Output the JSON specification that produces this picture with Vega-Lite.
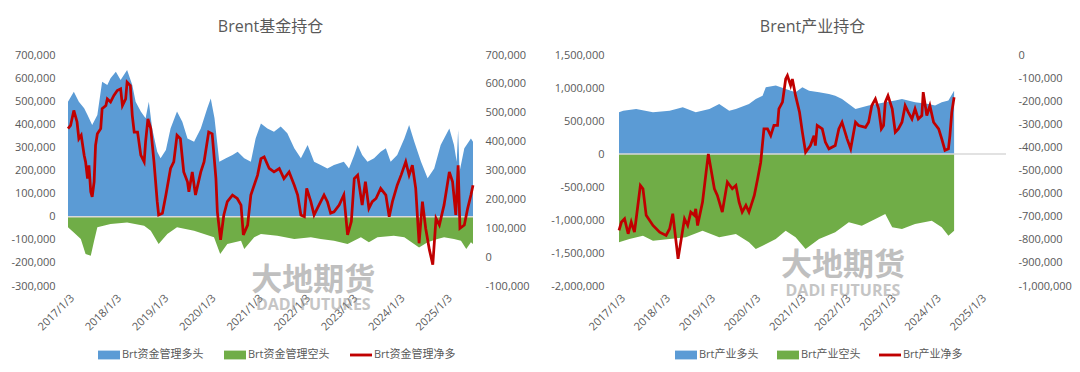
{
  "$schema": "https://vega.github.io/schema/vega-lite/v6.json",
  "background": "white",
  "padding": {"left": 10, "top": 19, "right": 0, "bottom": 0},
  "config": {
    "font": "'Open Sans', 'Noto Sans CJK SC', sans-serif",
    "view": {"stroke": null},
    "axis": {"labelColor": "#595959", "labelFontSize": 11, "grid": false, "domain": false, "ticks": false, "labelFont": "'Open Sans', 'Noto Sans CJK SC', sans-serif"},
    "title": {"fontSize": 16, "fontWeight": "normal", "color": "#595959", "anchor": "middle", "offset": 14, "font": "'Open Sans', 'Noto Sans CJK SC', sans-serif"},
    "legend": {"labelColor": "#595959", "labelFontSize": 11, "labelFont": "'Open Sans', 'Noto Sans CJK SC', sans-serif"}
  },
  "datasets": {
    "fL": [
      {"d":"2017-01-03","v":498000},{"d":"2017-02-17","v":541000},{"d":"2017-03-28","v":498000},{"d":"2017-05-08","v":469000},{"d":"2017-06-03","v":440000},{"d":"2017-07-09","v":397000},{"d":"2017-08-18","v":440000},{"d":"2017-09-24","v":584000},{"d":"2017-11-03","v":570000},{"d":"2017-11-28","v":599000},
      {"d":"2018-01-08","v":628000},{"d":"2018-02-14","v":592000},{"d":"2018-04-05","v":635000},{"d":"2018-05-15","v":570000},{"d":"2018-06-10","v":498000},{"d":"2018-07-20","v":455000},{"d":"2018-08-26","v":426000},{"d":"2018-09-20","v":498000},{"d":"2018-10-16","v":382000},{"d":"2018-11-24","v":281000},{"d":"2018-12-20","v":253000},
      {"d":"2019-01-30","v":289000},{"d":"2019-03-07","v":382000},{"d":"2019-04-26","v":455000},{"d":"2019-06-06","v":411000},{"d":"2019-07-16","v":339000},{"d":"2019-09-05","v":325000},{"d":"2019-10-27","v":382000},{"d":"2019-12-16","v":469000},
      {"d":"2020-01-12","v":512000},{"d":"2020-02-10","v":426000},{"d":"2020-03-18","v":238000},{"d":"2020-05-08","v":253000},{"d":"2020-06-28","v":267000},{"d":"2020-08-07","v":281000},{"d":"2020-09-27","v":253000},{"d":"2020-11-17","v":238000},{"d":"2020-12-24","v":339000},
      {"d":"2021-02-03","v":404000},{"d":"2021-03-25","v":382000},{"d":"2021-05-15","v":368000},{"d":"2021-07-06","v":390000},{"d":"2021-08-26","v":361000},{"d":"2021-10-19","v":296000},{"d":"2021-12-09","v":253000},
      {"d":"2022-01-30","v":310000},{"d":"2022-03-21","v":238000},{"d":"2022-05-11","v":224000},{"d":"2022-07-02","v":209000},{"d":"2022-08-22","v":224000},{"d":"2022-11-06","v":238000},{"d":"2022-12-16","v":209000},
      {"d":"2023-01-26","v":267000},{"d":"2023-02-21","v":310000},{"d":"2023-03-28","v":267000},{"d":"2023-05-08","v":238000},{"d":"2023-06-28","v":253000},{"d":"2023-08-18","v":281000},{"d":"2023-09-27","v":296000},{"d":"2023-11-03","v":238000},{"d":"2023-12-24","v":267000},
      {"d":"2024-02-17","v":339000},{"d":"2024-03-25","v":397000},{"d":"2024-05-04","v":325000},{"d":"2024-06-25","v":238000},{"d":"2024-08-15","v":166000},{"d":"2024-10-05","v":209000},{"d":"2024-11-24","v":310000},
      {"d":"2025-01-30","v":382000},{"d":"2025-03-07","v":310000},{"d":"2025-03-28","v":238000},{"d":"2025-04-08","v":375000},{"d":"2025-04-19","v":195000},{"d":"2025-05-26","v":296000},{"d":"2025-07-16","v":339000},{"d":"2025-08-01","v":325000}
    ],
    "fS": [
      {"d":"2017-01-03","v":-46000},{"d":"2017-02-17","v":-68000},{"d":"2017-04-12","v":-97000},{"d":"2017-05-19","v":-162000},{"d":"2017-06-28","v":-169000},{"d":"2017-07-24","v":-104000},{"d":"2017-08-18","v":-46000},{"d":"2017-11-28","v":-32000},
      {"d":"2018-04-05","v":-25000},{"d":"2018-08-15","v":-39000},{"d":"2018-10-05","v":-61000},{"d":"2018-12-05","v":-118000},
      {"d":"2019-02-10","v":-75000},{"d":"2019-04-26","v":-46000},{"d":"2019-09-05","v":-61000},{"d":"2019-11-21","v":-75000},
      {"d":"2020-02-06","v":-89000},{"d":"2020-03-25","v":-162000},{"d":"2020-05-19","v":-118000},{"d":"2020-09-02","v":-104000},{"d":"2020-09-27","v":-140000},{"d":"2020-12-13","v":-89000},
      {"d":"2021-02-03","v":-75000},{"d":"2021-06-10","v":-82000},{"d":"2021-10-19","v":-97000},
      {"d":"2022-02-24","v":-89000},{"d":"2022-05-11","v":-97000},{"d":"2022-08-22","v":-104000},{"d":"2022-12-05","v":-118000},
      {"d":"2023-03-18","v":-89000},{"d":"2023-05-19","v":-111000},{"d":"2023-07-24","v":-89000},{"d":"2023-11-28","v":-82000},
      {"d":"2024-02-17","v":-89000},{"d":"2024-06-10","v":-133000},{"d":"2024-08-15","v":-111000},{"d":"2024-10-30","v":-97000},{"d":"2024-12-20","v":-89000},
      {"d":"2025-03-07","v":-97000},{"d":"2025-04-30","v":-104000},{"d":"2025-06-10","v":-140000},{"d":"2025-07-16","v":-111000},{"d":"2025-08-01","v":-118000}
    ],
    "fN": [
      {"d":"2017-01-03","v":445000},{"d":"2017-01-23","v":456000},{"d":"2017-02-17","v":508000},{"d":"2017-03-14","v":468000},{"d":"2017-03-28","v":410000},{"d":"2017-04-15","v":422000},{"d":"2017-05-08","v":353000},{"d":"2017-05-19","v":330000},{"d":"2017-06-03","v":272000},{"d":"2017-06-14","v":318000},{"d":"2017-06-28","v":226000},{"d":"2017-07-09","v":209000},{"d":"2017-07-24","v":261000},{"d":"2017-08-04","v":387000},{"d":"2017-08-18","v":427000},{"d":"2017-09-13","v":445000},{"d":"2017-09-24","v":514000},{"d":"2017-10-23","v":525000},{"d":"2017-11-03","v":548000},{"d":"2017-11-28","v":537000},{"d":"2017-12-24","v":560000},
      {"d":"2018-01-19","v":577000},{"d":"2018-02-14","v":583000},{"d":"2018-02-28","v":525000},{"d":"2018-03-25","v":548000},{"d":"2018-04-05","v":606000},{"d":"2018-04-30","v":594000},{"d":"2018-05-15","v":491000},{"d":"2018-05-30","v":433000},{"d":"2018-06-25","v":433000},{"d":"2018-07-20","v":353000},{"d":"2018-08-15","v":330000},{"d":"2018-08-26","v":399000},{"d":"2018-09-13","v":479000},{"d":"2018-10-05","v":445000},{"d":"2018-10-30","v":330000},{"d":"2018-11-24","v":192000},{"d":"2018-12-05","v":146000},
      {"d":"2019-01-03","v":152000},{"d":"2019-01-30","v":215000},{"d":"2019-03-07","v":307000},{"d":"2019-04-01","v":330000},{"d":"2019-04-26","v":422000},{"d":"2019-05-22","v":410000},{"d":"2019-06-17","v":295000},{"d":"2019-07-16","v":261000},{"d":"2019-07-27","v":226000},{"d":"2019-08-22","v":295000},{"d":"2019-09-16","v":215000},{"d":"2019-10-27","v":295000},{"d":"2019-11-21","v":330000},{"d":"2019-12-27","v":433000},
      {"d":"2020-01-23","v":427000},{"d":"2020-02-21","v":272000},{"d":"2020-03-03","v":157000},{"d":"2020-03-28","v":60000},{"d":"2020-04-22","v":146000},{"d":"2020-05-19","v":192000},{"d":"2020-06-28","v":215000},{"d":"2020-08-04","v":203000},{"d":"2020-09-02","v":180000},{"d":"2020-09-20","v":77000},{"d":"2020-10-23","v":111000},{"d":"2020-11-17","v":215000},
      {"d":"2021-01-08","v":284000},{"d":"2021-02-03","v":341000},{"d":"2021-02-28","v":347000},{"d":"2021-04-08","v":307000},{"d":"2021-05-15","v":295000},{"d":"2021-06-25","v":307000},{"d":"2021-07-31","v":272000},{"d":"2021-09-09","v":295000},{"d":"2021-10-19","v":249000},{"d":"2021-11-14","v":215000},{"d":"2021-12-09","v":146000},
      {"d":"2022-01-05","v":140000},{"d":"2022-01-23","v":238000},{"d":"2022-02-24","v":192000},{"d":"2022-03-21","v":146000},{"d":"2022-04-15","v":169000},{"d":"2022-06-06","v":215000},{"d":"2022-07-02","v":192000},{"d":"2022-07-27","v":152000},{"d":"2022-08-22","v":157000},{"d":"2022-10-01","v":180000},{"d":"2022-11-06","v":215000},{"d":"2022-12-05","v":77000},
      {"d":"2023-01-03","v":123000},{"d":"2023-01-26","v":272000},{"d":"2023-02-21","v":284000},{"d":"2023-03-28","v":180000},{"d":"2023-04-22","v":261000},{"d":"2023-05-19","v":169000},{"d":"2023-06-14","v":192000},{"d":"2023-07-13","v":203000},{"d":"2023-08-18","v":238000},{"d":"2023-09-27","v":215000},{"d":"2023-10-23","v":140000},{"d":"2023-11-17","v":192000},{"d":"2023-12-24","v":249000},
      {"d":"2024-01-23","v":284000},{"d":"2024-02-28","v":330000},{"d":"2024-03-25","v":284000},{"d":"2024-04-19","v":318000},{"d":"2024-05-15","v":238000},{"d":"2024-06-10","v":48000},{"d":"2024-07-06","v":192000},{"d":"2024-07-31","v":100000},{"d":"2024-08-29","v":25000},{"d":"2024-09-24","v":-26000},{"d":"2024-10-19","v":134000},{"d":"2024-11-14","v":111000},{"d":"2024-12-20","v":180000},
      {"d":"2025-01-30","v":295000},{"d":"2025-02-24","v":261000},{"d":"2025-03-21","v":146000},{"d":"2025-04-08","v":318000},{"d":"2025-04-22","v":100000},{"d":"2025-05-26","v":111000},{"d":"2025-06-21","v":169000},{"d":"2025-07-16","v":215000},{"d":"2025-08-01","v":249000}
    ],
    "iL": [
      {"d":"2017-01-03","v":632000},{"d":"2017-02-06","v":657000},{"d":"2017-05-22","v":682000},{"d":"2017-10-05","v":632000},{"d":"2018-02-17","v":657000},{"d":"2018-06-03","v":708000},{"d":"2018-09-16","v":632000},{"d":"2019-01-05","v":682000},{"d":"2019-03-25","v":758000},{"d":"2019-06-14","v":657000},{"d":"2019-08-07","v":682000},{"d":"2019-11-21","v":758000},
      {"d":"2020-01-15","v":834000},{"d":"2020-03-10","v":884000},{"d":"2020-04-05","v":1011000},{"d":"2020-06-25","v":1036000},{"d":"2020-09-13","v":985000},{"d":"2020-12-02","v":935000},{"d":"2021-01-26","v":1011000},{"d":"2021-03-21","v":960000},{"d":"2021-06-10","v":935000},{"d":"2021-08-29","v":910000},{"d":"2021-10-19","v":884000},{"d":"2021-12-13","v":834000},
      {"d":"2022-04-01","v":682000},{"d":"2022-07-16","v":733000},{"d":"2022-11-28","v":783000},{"d":"2023-02-17","v":809000},{"d":"2023-04-12","v":834000},{"d":"2023-07-27","v":783000},{"d":"2023-11-14","v":758000},{"d":"2024-01-05","v":733000},{"d":"2024-02-28","v":783000},{"d":"2024-04-22","v":809000},{"d":"2024-06-07","v":960000}
    ],
    "iS": [
      {"d":"2017-01-03","v":-1338000},{"d":"2017-03-28","v":-1288000},{"d":"2017-07-16","v":-1237000},{"d":"2017-10-05","v":-1313000},{"d":"2018-02-17","v":-1288000},{"d":"2018-06-28","v":-1262000},{"d":"2018-11-10","v":-1161000},{"d":"2019-03-25","v":-1262000},{"d":"2019-08-07","v":-1212000},{"d":"2019-11-21","v":-1338000},
      {"d":"2020-01-15","v":-1439000},{"d":"2020-03-10","v":-1389000},{"d":"2020-06-25","v":-1288000},{"d":"2020-09-13","v":-1161000},{"d":"2020-12-02","v":-1262000},{"d":"2021-02-21","v":-1439000},{"d":"2021-06-10","v":-1288000},{"d":"2021-10-19","v":-1187000},
      {"d":"2022-02-06","v":-1035000},{"d":"2022-05-22","v":-1086000},{"d":"2022-09-09","v":-985000},{"d":"2022-11-28","v":-909000},{"d":"2023-01-23","v":-1111000},{"d":"2023-04-12","v":-1136000},{"d":"2023-07-27","v":-1060000},{"d":"2023-12-09","v":-1010000},{"d":"2024-02-28","v":-1111000},{"d":"2024-04-22","v":-1237000},{"d":"2024-06-07","v":-1161000}
    ],
    "iN": [
      {"d":"2017-01-03","v":-759000},{"d":"2017-01-23","v":-723000},{"d":"2017-02-17","v":-709000},{"d":"2017-03-18","v":-774000},{"d":"2017-04-12","v":-723000},{"d":"2017-05-08","v":-767000},{"d":"2017-05-22","v":-709000},{"d":"2017-06-25","v":-565000},{"d":"2017-07-16","v":-579000},{"d":"2017-08-11","v":-694000},{"d":"2017-10-05","v":-738000},{"d":"2017-11-28","v":-767000},
      {"d":"2018-01-19","v":-781000},{"d":"2018-02-17","v":-752000},{"d":"2018-03-14","v":-687000},{"d":"2018-04-26","v":-882000},{"d":"2018-06-17","v":-709000},{"d":"2018-07-13","v":-738000},{"d":"2018-08-07","v":-680000},{"d":"2018-09-05","v":-694000},{"d":"2018-09-16","v":-666000},{"d":"2018-10-01","v":-738000},{"d":"2018-11-10","v":-637000},{"d":"2018-12-09","v":-507000},{"d":"2018-12-27","v":-428000},
      {"d":"2019-02-14","v":-579000},{"d":"2019-03-10","v":-608000},{"d":"2019-04-19","v":-680000},{"d":"2019-05-30","v":-550000},{"d":"2019-07-09","v":-579000},{"d":"2019-08-07","v":-565000},{"d":"2019-09-02","v":-637000},{"d":"2019-09-27","v":-680000},{"d":"2019-10-27","v":-651000},{"d":"2019-11-21","v":-680000},
      {"d":"2020-01-03","v":-608000},{"d":"2020-01-30","v":-536000},{"d":"2020-02-24","v":-464000},{"d":"2020-03-21","v":-320000},{"d":"2020-04-19","v":-320000},{"d":"2020-05-15","v":-349000},{"d":"2020-06-10","v":-305000},{"d":"2020-07-09","v":-305000},{"d":"2020-07-20","v":-233000},{"d":"2020-08-18","v":-204000},{"d":"2020-09-13","v":-104000},{"d":"2020-09-27","v":-89000},{"d":"2020-10-23","v":-132000},{"d":"2020-11-06","v":-104000},{"d":"2020-12-02","v":-176000},
      {"d":"2021-01-03","v":-248000},{"d":"2021-01-26","v":-334000},{"d":"2021-02-21","v":-421000},{"d":"2021-04-01","v":-392000},{"d":"2021-04-30","v":-349000},{"d":"2021-05-11","v":-392000},{"d":"2021-05-26","v":-305000},{"d":"2021-07-06","v":-320000},{"d":"2021-07-31","v":-377000},{"d":"2021-08-29","v":-406000},{"d":"2021-10-19","v":-392000},{"d":"2021-11-17","v":-320000},{"d":"2021-12-13","v":-291000},
      {"d":"2022-01-23","v":-363000},{"d":"2022-02-21","v":-406000},{"d":"2022-03-03","v":-377000},{"d":"2022-04-01","v":-291000},{"d":"2022-04-26","v":-305000},{"d":"2022-06-21","v":-313000},{"d":"2022-07-16","v":-291000},{"d":"2022-08-11","v":-219000},{"d":"2022-09-09","v":-190000},{"d":"2022-10-05","v":-233000},{"d":"2022-10-27","v":-320000},{"d":"2022-11-14","v":-305000},{"d":"2022-11-28","v":-204000},{"d":"2022-12-20","v":-176000},
      {"d":"2023-01-23","v":-233000},{"d":"2023-02-17","v":-334000},{"d":"2023-03-14","v":-320000},{"d":"2023-04-12","v":-291000},{"d":"2023-05-08","v":-219000},{"d":"2023-06-03","v":-248000},{"d":"2023-07-02","v":-277000},{"d":"2023-07-27","v":-233000},{"d":"2023-08-22","v":-277000},{"d":"2023-09-20","v":-262000},{"d":"2023-10-01","v":-161000},{"d":"2023-10-30","v":-262000},{"d":"2023-11-24","v":-219000},{"d":"2023-12-24","v":-291000},
      {"d":"2024-02-03","v":-320000},{"d":"2024-02-28","v":-363000},{"d":"2024-03-25","v":-413000},{"d":"2024-04-22","v":-406000},{"d":"2024-05-04","v":-349000},{"d":"2024-05-19","v":-248000},{"d":"2024-06-07","v":-183000}
    ]
  },
  "spacing": 20,
  "resolve": {"scale": {"color": "independent", "y": "independent"}, "legend": {"color": "independent"}},
  "hconcat": [
    {
      "title": {"text": "Brent基金持仓"},
      "width": 405,
      "height": 231,
      "resolve": {"scale": {"y": "independent"}},
      "layer": [
        {
          "data": {"name": "fL"},
          "mark": {"type": "area", "interpolate": "linear"},
          "encoding": {
            "x": {"field": "d", "type": "temporal", "scale": {"type": "utc", "nice": false, "domain": [{"year": 2017, "month": 1, "date": 3, "utc": true}, {"year": 2025, "month": 8, "date": 1, "utc": true}]},
              "axis": {"title": null, "values": [{"year": 2017, "month": 1, "date": 3, "utc": true}, {"year": 2018, "month": 1, "date": 3, "utc": true}, {"year": 2019, "month": 1, "date": 3, "utc": true}, {"year": 2020, "month": 1, "date": 3, "utc": true}, {"year": 2021, "month": 1, "date": 3, "utc": true}, {"year": 2022, "month": 1, "date": 3, "utc": true}, {"year": 2023, "month": 1, "date": 3, "utc": true}, {"year": 2024, "month": 1, "date": 3, "utc": true}, {"year": 2025, "month": 1, "date": 3, "utc": true}],
                "labelExpr": "utcFormat(datum.value, '%Y/%-m/%-d')", "labelAngle": -45, "labelPadding": 6, "labelFlush": false, "labelOverlap": false, "labelBound": false}},
            "y": {"field": "v", "type": "quantitative", "stack": null, "scale": {"domain": [-300000, 700000], "nice": false, "zero": false},
              "axis": {"orient": "left", "title": null, "values": [-300000, -200000, -100000, 0, 100000, 200000, 300000, 400000, 500000, 600000, 700000], "labelExpr": "replace(datum.label, '−', '-')", "labelPadding": 13, "minExtent": 57, "maxExtent": 57}},
            "color": {"datum": "Brt资金管理多头", "type": "nominal",
              "scale": {"domain": ["Brt资金管理多头", "Brt资金管理空头", "Brt资金管理净多"], "range": ["#5B9BD5", "#70AD47", "#C00000"]},
              "legend": {"orient": "none", "legendX": 30, "legendY": 289, "direction": "horizontal", "columns": 3, "title": null, "symbolSize": 484, "labelOffset": 2, "columnPadding": 20,
                "encode": {"symbols": {"update": {
                  "shape": {"signal": "datum.value === 'Brt资金管理净多' ? 'M-1,-0.13H1V0.13H-1Z' : 'M-1,-0.4H1V0.4H-1Z'"},
                  "fill": {"signal": "datum.value === 'Brt资金管理多头' ? '#5B9BD5' : (datum.value === 'Brt资金管理空头' ? '#70AD47' : '#C00000')"},
                  "strokeWidth": {"value": 0},
                  "opacity": {"value": 1}
                }}}}}
          }
        },
        {
          "data": {"name": "fS"},
          "mark": {"type": "area", "interpolate": "linear"},
          "encoding": {
            "x": {"field": "d", "type": "temporal", "scale": {"type": "utc"}},
            "y": {"field": "v", "type": "quantitative", "stack": null, "scale": {"domain": [-300000, 700000], "nice": false, "zero": false}, "axis": null},
            "color": {"datum": "Brt资金管理空头", "type": "nominal", "legend": null}
          }
        },
        {
          "data": {"values": [{}]},
          "mark": {"type": "rule", "color": "#D9D9D9", "strokeWidth": 1.5},
          "encoding": {"y": {"datum": 0, "type": "quantitative", "scale": {"domain": [-300000, 700000], "nice": false, "zero": false}, "axis": null}}
        },
        {
          "data": {"values": [{}]},
          "mark": {"type": "text", "text": "大地期货", "fontSize": 31, "fontWeight": "bold", "color": "#8c8c8c", "opacity": 0.55, "font": "Noto Sans CJK SC"},
          "encoding": {
            "x": {"datum": {"year": 2022, "month": 3, "date": 15, "utc": true}, "type": "temporal", "scale": {"type": "utc"}},
            "y": {"datum": -277500, "type": "quantitative", "scale": {"domain": [-300000, 700000], "nice": false, "zero": false}, "axis": null}
          }
        },
        {
          "data": {"values": [{}]},
          "mark": {"type": "text", "text": "DADI FUTURES", "fontSize": 16, "fontWeight": "bold", "color": "#8c8c8c", "opacity": 0.5, "font": "Open Sans"},
          "encoding": {
            "x": {"datum": {"year": 2022, "month": 3, "date": 15, "utc": true}, "type": "temporal", "scale": {"type": "utc"}},
            "y": {"datum": -383500, "type": "quantitative", "scale": {"domain": [-300000, 700000], "nice": false, "zero": false}, "axis": null}
          }
        },
        {
          "data": {"name": "fN"},
          "mark": {"type": "line", "strokeWidth": 2.75, "interpolate": "linear"},
          "encoding": {
            "x": {"field": "d", "type": "temporal", "scale": {"type": "utc"}},
            "y": {"field": "v", "type": "quantitative", "scale": {"domain": [-100000, 700000], "nice": false, "zero": false},
              "axis": {"orient": "right", "title": null, "values": [-100000, 0, 100000, 200000, 300000, 400000, 500000, 600000, 700000], "labelExpr": "replace(datum.label, '−', '-')", "labelPadding": 12, "minExtent": 57, "maxExtent": 57}},
            "color": {"datum": "Brt资金管理净多", "type": "nominal", "legend": null}
          }
        }
      ]
    },
    {
      "title": {"text": "Brent产业持仓"},
      "width": 387,
      "height": 231,
      "resolve": {"scale": {"y": "independent"}},
      "layer": [
        {
          "data": {"name": "iL"},
          "mark": {"type": "area", "interpolate": "linear"},
          "encoding": {
            "x": {"field": "d", "type": "temporal", "scale": {"type": "utc", "nice": false, "domain": [{"year": 2017, "month": 1, "date": 3, "utc": true}, {"year": 2025, "month": 8, "date": 1, "utc": true}]},
              "axis": {"title": null, "values": [{"year": 2017, "month": 1, "date": 3, "utc": true}, {"year": 2018, "month": 1, "date": 3, "utc": true}, {"year": 2019, "month": 1, "date": 3, "utc": true}, {"year": 2020, "month": 1, "date": 3, "utc": true}, {"year": 2021, "month": 1, "date": 3, "utc": true}, {"year": 2022, "month": 1, "date": 3, "utc": true}, {"year": 2023, "month": 1, "date": 3, "utc": true}, {"year": 2024, "month": 1, "date": 3, "utc": true}, {"year": 2025, "month": 1, "date": 3, "utc": true}],
                "labelExpr": "utcFormat(datum.value, '%Y/%-m/%-d')", "labelAngle": -45, "labelPadding": 6, "labelFlush": false, "labelOverlap": false, "labelBound": false}},
            "y": {"field": "v", "type": "quantitative", "stack": null, "scale": {"domain": [-2000000, 1500000], "nice": false, "zero": false},
              "axis": {"orient": "left", "title": null, "values": [-2000000, -1500000, -1000000, -500000, 0, 500000, 1000000, 1500000], "labelExpr": "replace(datum.label, '−', '-')", "labelPadding": 15, "minExtent": 66, "maxExtent": 66}},
            "color": {"datum": "Brt产业多头", "type": "nominal",
              "scale": {"domain": ["Brt产业多头", "Brt产业空头", "Brt产业净多"], "range": ["#5B9BD5", "#70AD47", "#C00000"]},
              "legend": {"orient": "none", "legendX": 56, "legendY": 289, "direction": "horizontal", "columns": 3, "title": null, "symbolSize": 484, "labelOffset": 2, "columnPadding": 18,
                "encode": {"symbols": {"update": {
                  "shape": {"signal": "datum.value === 'Brt产业净多' ? 'M-1,-0.13H1V0.13H-1Z' : 'M-1,-0.4H1V0.4H-1Z'"},
                  "fill": {"signal": "datum.value === 'Brt产业多头' ? '#5B9BD5' : (datum.value === 'Brt产业空头' ? '#70AD47' : '#C00000')"},
                  "strokeWidth": {"value": 0},
                  "opacity": {"value": 1}
                }}}}}
          }
        },
        {
          "data": {"name": "iS"},
          "mark": {"type": "area", "interpolate": "linear"},
          "encoding": {
            "x": {"field": "d", "type": "temporal", "scale": {"type": "utc"}},
            "y": {"field": "v", "type": "quantitative", "stack": null, "scale": {"domain": [-2000000, 1500000], "nice": false, "zero": false}, "axis": null},
            "color": {"datum": "Brt产业空头", "type": "nominal", "legend": null}
          }
        },
        {
          "data": {"values": [{}]},
          "mark": {"type": "rule", "color": "#D9D9D9", "strokeWidth": 1.5},
          "encoding": {"y": {"datum": 0, "type": "quantitative", "scale": {"domain": [-2000000, 1500000], "nice": false, "zero": false}, "axis": null}}
        },
        {
          "data": {"values": [{}]},
          "mark": {"type": "text", "text": "大地期货", "fontSize": 31, "fontWeight": "bold", "color": "#8c8c8c", "opacity": 0.55, "font": "Noto Sans CJK SC"},
          "encoding": {
            "x": {"datum": {"year": 2021, "month": 12, "date": 20, "utc": true}, "type": "temporal", "scale": {"type": "utc"}},
            "y": {"datum": -1694000, "type": "quantitative", "scale": {"domain": [-2000000, 1500000], "nice": false, "zero": false}, "axis": null}
          }
        },
        {
          "data": {"values": [{}]},
          "mark": {"type": "text", "text": "DADI FUTURES", "fontSize": 16, "fontWeight": "bold", "color": "#8c8c8c", "opacity": 0.5, "font": "Open Sans"},
          "encoding": {
            "x": {"datum": {"year": 2021, "month": 12, "date": 20, "utc": true}, "type": "temporal", "scale": {"type": "utc"}},
            "y": {"datum": -2080000, "type": "quantitative", "scale": {"domain": [-2000000, 1500000], "nice": false, "zero": false}, "axis": null}
          }
        },
        {
          "data": {"name": "iN"},
          "mark": {"type": "line", "strokeWidth": 2.75, "interpolate": "linear"},
          "encoding": {
            "x": {"field": "d", "type": "temporal", "scale": {"type": "utc"}},
            "y": {"field": "v", "type": "quantitative", "scale": {"domain": [-1000000, 0], "nice": false, "zero": false},
              "axis": {"orient": "right", "title": null, "values": [-1000000, -900000, -800000, -700000, -600000, -500000, -400000, -300000, -200000, -100000, 0], "labelExpr": "replace(datum.label, '−', '-')", "labelPadding": 12, "minExtent": 65, "maxExtent": 65}},
            "color": {"datum": "Brt产业净多", "type": "nominal", "legend": null}
          }
        }
      ]
    }
  ]
}
